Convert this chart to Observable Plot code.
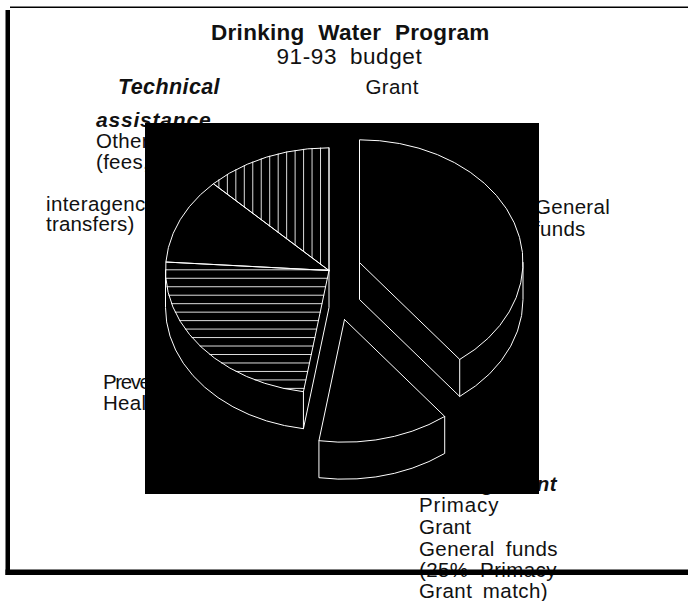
<!DOCTYPE html>
<html>
<head>
<meta charset="utf-8">
<script src="https://cdn.jsdelivr.net/npm/d3@7"></script>
<script src="https://cdn.jsdelivr.net/npm/@observablehq/plot@0.6"></script>
<style>html,body{margin:0;padding:0;background:#fff}svg{display:block}</style>
</head>
<body>
<script>
// Budget shares in percent, clockwise from the top of the pie
const sliceNames = ["General funds", "Management", "Preventive Health", "Other", "Technical assistance"];
const sliceShares = [39.5, 13, 23.6, 11.4, 12.5];
const sliceHatch = [null, null, "horizontal", null, "vertical"];

// Where each slice's apex sits, on the page grid
const sliceApexX = [359, 344, 328.5, 328.5, 328.5];
const sliceApexY = [262, 319, 270, 270, 270];

const rx = 163.5, ry = 122.7, depth = 37;
const hatchStep = 8.47;

// text, x, baseline y, size, weight, style, anchor, letter spacing, word spacing
const labels = [
  ["Drinking Water Program", 210.5, 39.5, 22.5, "bold", "normal", "start", 0.3, 7],
  ["91-93 budget", 276, 63.5, 22.5, "normal", "normal", "start", 0.6, 6],
  ["Grant", 365, 93, 20.5, "normal", "normal", "start", 0.4, 0],
  ["Technical", 117.5, 93, 21.5, "bold", "italic", "start", 0.4, 0],
  ["assistance", 95.5, 126, 21, "bold", "italic", "start", 0.8, 0],
  ["Other", 95.5, 147.5, 20.5, "normal", "normal", "start", 0.3, 0],
  ["(fees,", 95.5, 168, 20.5, "normal", "normal", "start", 0.3, 0],
  ["interagency", 45.5, 210, 20.5, "normal", "normal", "start", 0.4, 0],
  ["transfers)", 45.5, 230.5, 20.5, "normal", "normal", "start", 0.2, 0],
  ["General", 534.5, 213.5, 20.5, "normal", "normal", "start", 0.3, 0],
  ["funds", 533.5, 235, 20.5, "normal", "normal", "start", 0.3, 0],
  ["Preventive", 102.5, 388, 20.5, "normal", "normal", "start", -1.4, 0],
  ["Health", 102.5, 409, 20.5, "normal", "normal", "start", 0.3, 0],
  ["Management", 556.5, 490.5, 20.5, "bold", "italic", "end", 0.4, 0],
  ["Primacy", 418.5, 511.5, 20.5, "normal", "normal", "start", 0.9, 0],
  ["Grant", 418.5, 533.5, 20.5, "normal", "normal", "start", 0.2, 0],
  ["General funds", 418.5, 555, 20.5, "normal", "normal", "start", 0.4, 5],
  ["(25% Primacy", 418.5, 576.5, 20.5, "normal", "normal", "start", 0.4, 5.5],
  ["Grant match)", 418.5, 597.5, 20.5, "normal", "normal", "start", 0.4, 4.5]
];

// Black panel and page frame
const panels = [{x1: 145, x2: 539, y1: 123, y2: 494}];
const frame = [
  {x1: 10, x2: 688, y1: 6.5, y2: 8},
  {x1: 5.5, x2: 10, y1: 10, y2: 575},
  {x1: 5.5, x2: 688, y1: 569.5, y2: 575}
];

const deg = Math.PI / 180;
const cum = d3.cumsum(sliceShares);
const startA = i => (i ? cum[i - 1] : 0) * 3.6;
const endA = i => cum[i] * 3.6;
const rim = (i, a, dy = 0) => ({
  x: sliceApexX[i] + rx * Math.sin(a * deg),
  y: sliceApexY[i] - ry * Math.cos(a * deg) + dy
});
const arc = (i, a0, a1, dy = 0) => {
  const n = Math.max(1, Math.round(Math.abs(a1 - a0) / 7));
  return d3.range(n + 1).map(k => rim(i, a0 + (a1 - a0) * k / n, dy));
};

const paths = [];
const add = pts => { paths.push(pts); };

sliceShares.forEach((_, i) => {
  const apex = {x: sliceApexX[i], y: sliceApexY[i]};
  const a0 = startA(i), a1 = endA(i);
  add([apex, ...arc(i, a0, a1), apex]);
});

// Visible side walls
{
  const i = 0, a1 = endA(0);
  const apex = {x: sliceApexX[i], y: sliceApexY[i]};
  add([apex, {x: apex.x, y: apex.y + depth}, rim(i, a1, depth), rim(i, a1)]);
  add(arc(i, a1, 90, depth).concat([rim(i, 90)]));
}
{
  const i = 1, a0 = startA(1), a1 = endA(1);
  add([rim(i, a0), ...arc(i, a0, a1, depth), rim(i, a1)]);
}
{
  const i = 2, a0 = startA(2), a1 = endA(2);
  const apex = {x: sliceApexX[i], y: sliceApexY[i]};
  add([apex, {x: apex.x, y: apex.y + depth}, rim(i, a0, depth), rim(i, a0)]);
  add([rim(i, a0, depth), ...arc(i, a0, 270, depth), rim(i, 270)]);
}

// Hatching, clipped to the two hatched slices
const hatch = [];
{
  const i = sliceHatch.indexOf("horizontal");
  const cx = sliceApexX[i], cy = sliceApexY[i], e = rim(i, endA(i - 1));
  const slope = (e.x - cx) / (e.y - cy);
  for (let y = cy - 0.7; y < e.y; y += hatchStep) {
    const t = (y - cy) / ry;
    hatch.push([{x: cx - rx * Math.sqrt(1 - t * t), y}, {x: cx + slope * (y - cy), y}]);
  }
}
{
  const i = sliceHatch.indexOf("vertical");
  const cx = sliceApexX[i], cy = sliceApexY[i], e = rim(i, startA(i));
  const slope = (e.y - cy) / (e.x - cx);
  for (let x = cx; ; x -= hatchStep) {
    const t = (x - cx) / rx;
    const top = cy - ry * Math.sqrt(1 - t * t), bottom = cy + slope * (x - cx);
    if (top >= bottom) break;
    hatch.push([{x, y: top}, {x, y: bottom}]);
  }
}
const flat = list => list.flatMap((pts, id) => pts.map(p => ({...p, id})));

const textMark = l => Plot.text([l], {
  x: d => d[1], y: d => d[2], text: d => d[0],
  fontSize: l[3], fontWeight: l[4], fontStyle: l[5], textAnchor: l[6],
  lineAnchor: "bottom", fill: "#111", fontFamily: "Liberation Sans, Arial, sans-serif",
  render(index, scales, values, dims, ctx, next) {
    const g = next(index, scales, values, dims, ctx);
    d3.select(g).selectAll("text")
      .style("letter-spacing", l[7] + "px")
      .style("word-spacing", l[8] + "px");
    return g;
  }
});

const chart = Plot.plot({
  width: 688, height: 601,
  margin: 0,
  x: {domain: [0, 688], range: [0, 688], axis: null},
  y: {domain: [0, 601], range: [0, 601], axis: null},
  style: {background: "#fff"},
  marks: [
    ...labels.map(textMark),
    Plot.rect(panels, {x1: "x1", x2: "x2", y1: "y1", y2: "y2", fill: "#000"}),
    Plot.line(flat(hatch), {x: "x", y: "y", z: "id", stroke: "#ddd", strokeWidth: 1}),
    Plot.line(flat(paths), {x: "x", y: "y", z: "id", stroke: "#fff", strokeWidth: 1, strokeLinejoin: "miter"}),
    Plot.rect(frame, {x1: "x1", x2: "x2", y1: "y1", y2: "y2", fill: "#000"})
  ]
});
document.body.appendChild(chart);
</script>
</body>
</html>
